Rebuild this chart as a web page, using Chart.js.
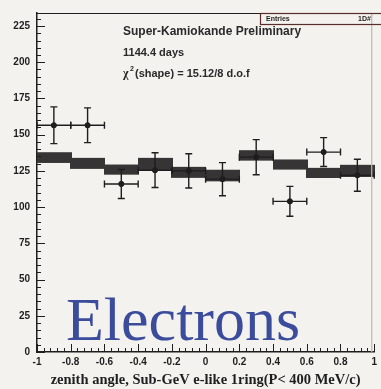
<!DOCTYPE html>
<html>
<head>
<meta charset="utf-8">
<script src="https://cdn.jsdelivr.net/npm/chart.js@4.4.0/dist/chart.umd.min.js"></script>
<style>
  html, body { margin: 0; padding: 0; background: #f3f2ee; }
  #wrap { width: 381px; height: 389px; }
</style>
</head>
<body>
<div id="wrap"><canvas id="zenith"></canvas></div>
<script>
// bins in cos(zenith), width 0.2
const binCenters = [-0.9, -0.7, -0.5, -0.3, -0.1, 0.1, 0.3, 0.5, 0.7, 0.9];
const binHalfWidth = 0.1;

// observed events with statistical errors
const dataValues = [156.5, 156.5, 116, 125.5, 125, 119.3, 134.5, 104, 138, 122];
const dataErrors = [12.7, 12, 10, 12, 11.8, 11.4, 12.1, 10.3, 10, 11];

// Monte Carlo expectation (box = central value +- error)
const mcValues = [134.2, 130.2, 125.9, 129.5, 124, 121.8, 135.7, 129.4, 123.6, 125];
const mcErrors = [3.7, 3.8, 3.5, 4.5, 3.8, 4, 3.6, 3.5, 3.5, 4.2];

const xTicks = [-1, -0.8, -0.6, -0.4, -0.2, 0, 0.2, 0.4, 0.6, 0.8, 1];
const yTicks = [0, 25, 50, 75, 100, 125, 150, 175, 200, 225];
const xTickLabels = ['-1', '-0.8', '-0.6', '-0.4', '-0.2', '0', '0.2', '0.4', '0.6', '0.8', '1'];
const yTickLabels = ['0', '25', '50', '75', '100', '125', '150', '175', '200', '225'];

const INK = '#1e1e1e';

// page background
const paperPlugin = {
    id: 'paper',
    beforeDraw(chart) {
        const ctx = chart.ctx;
        ctx.save();
        ctx.fillStyle = '#f3f2ee';
        ctx.fillRect(0, 0, chart.width, chart.height);
        ctx.restore();
    }
};

// MC boxes behind the data points
const mcBoxPlugin = {
    id: 'mcBoxes',
    beforeDatasetsDraw(chart) {
        const { ctx, scales: { x, y } } = chart;
        ctx.save();
        ctx.fillStyle = '#363434';
        binCenters.forEach((c, i) => {
            const x0 = x.getPixelForValue(c - binHalfWidth);
            const x1 = x.getPixelForValue(c + binHalfWidth);
            const y0 = y.getPixelForValue(mcValues[i] + mcErrors[i]);
            const y1 = y.getPixelForValue(mcValues[i] - mcErrors[i]);
            ctx.fillRect(Math.floor(x0), y0, Math.ceil(x1 - x0) + 1, y1 - y0);
        });
        ctx.restore();
    }
};

// error bars (vertical = stat. error, horizontal = bin width)
const errorBarPlugin = {
    id: 'errorBars',
    afterDatasetsDraw(chart) {
        const { ctx, scales: { x, y } } = chart;
        ctx.save();
        ctx.strokeStyle = INK;
        ctx.lineWidth = 1.4;
        binCenters.forEach((c, i) => {
            const px = x.getPixelForValue(c);
            const py = y.getPixelForValue(dataValues[i]);
            const top = y.getPixelForValue(dataValues[i] + dataErrors[i]);
            const bot = y.getPixelForValue(dataValues[i] - dataErrors[i]);
            const left = x.getPixelForValue(c - binHalfWidth);
            const right = x.getPixelForValue(c + binHalfWidth);
            ctx.beginPath();
            ctx.moveTo(px, top); ctx.lineTo(px, bot);
            ctx.moveTo(px - 3.5, top); ctx.lineTo(px + 3.5, top);
            ctx.moveTo(px - 3.5, bot); ctx.lineTo(px + 3.5, bot);
            ctx.moveTo(left, py); ctx.lineTo(right, py);
            ctx.moveTo(left, py - 3.5); ctx.lineTo(left, py + 3.5);
            ctx.moveTo(right, py - 3.5); ctx.lineTo(right, py + 3.5);
            ctx.stroke();
        });
        ctx.restore();
    }
};

// frame, inward ticks and the text on the pad
const framePlugin = {
    id: 'frame',
    afterDraw(chart) {
        const { ctx, chartArea: a, scales: { x, y } } = chart;
        ctx.save();
        ctx.strokeStyle = INK;
        ctx.lineWidth = 1;

        // y ticks: major every 25, minor every 5
        ctx.beginPath();
        for (let v = 0; v <= y.max; v += 5) {
            const py = Math.round(y.getPixelForValue(v)) + 0.5;
            const len = v % 25 === 0 ? 8 : 4;
            ctx.moveTo(a.left, py); ctx.lineTo(a.left + len, py);
        }
        // x ticks: major every 0.2, minor every 0.04
        for (let k = 0; k <= 50; k++) {
            const v = -1 + k * 0.04;
            const px = Math.round(x.getPixelForValue(v)) + 0.5;
            const len = k % 5 === 0 ? 8 : 4;
            ctx.moveTo(px, a.bottom); ctx.lineTo(px, a.bottom - len);
        }
        ctx.stroke();

        // top and right border
        ctx.beginPath();
        ctx.lineWidth = 1.2;
        ctx.moveTo(a.left, a.top + 0.5); ctx.lineTo(a.right, a.top + 0.5);
        ctx.stroke();
        ctx.beginPath();
        ctx.strokeStyle = '#b9b8b4';
        ctx.moveTo(a.right - 2.5, a.top); ctx.lineTo(a.right - 2.5, a.bottom);
        ctx.stroke();

        // stats box
        ctx.strokeStyle = '#5a2c2c';
        ctx.lineWidth = 1.2;
        ctx.strokeRect(260.5, 13.5, 130, 11);
        ctx.fillStyle = INK;
        ctx.font = 'bold 7px "Liberation Sans"';
        ctx.textBaseline = 'middle';
        ctx.fillText('Entries', 266, 19.5);
        ctx.fillText('1D#', 358, 19.5);

        // annotations
        ctx.fillStyle = '#2a2a2a';
        ctx.font = 'bold 12px "Liberation Sans"';
        ctx.fillText('Super-Kamiokande Preliminary', 123, 32);
        ctx.font = 'bold 11px "Liberation Sans"';
        ctx.fillText('1144.4 days', 123, 53);
        ctx.font = 'bold 12px "Liberation Serif"';
        ctx.fillText('\u03c7', 123, 74);
        ctx.font = 'bold 7px "Liberation Sans"';
        ctx.fillText('2', 130, 69);
        ctx.font = 'bold 11px "Liberation Sans"';
        ctx.fillText('(shape) = 15.12/8 d.o.f', 135, 74);

        // particle label
        ctx.fillStyle = '#3b4c9c';
        ctx.font = '62px "Liberation Serif"';
        ctx.textBaseline = 'alphabetic';
        ctx.fillText('Electrons', 66, 340);
        ctx.restore();
    }
};

const ctx = document.getElementById('zenith').getContext('2d');
new Chart(ctx, {
    type: 'scatter',
    data: {
        datasets: [{
            label: 'Data',
            data: binCenters.map((c, i) => ({ x: c, y: dataValues[i] })),
            backgroundColor: INK,
            borderColor: INK,
            pointRadius: 2.6,
            pointHoverRadius: 2.6
        }]
    },
    options: {
        responsive: true,
        maintainAspectRatio: false,
        animation: false,
        layout: { padding: { top: 13, right: 3, left: 0, bottom: 0 } },
        plugins: {
            legend: { display: false },
            tooltip: { enabled: false }
        },
        scales: {
            x: {
                type: 'linear',
                min: -1,
                max: 1,
                afterBuildTicks: axis => { axis.ticks = xTicks.map(v => ({ value: v })); },
                afterFit: axis => { axis.height = 37; },
                grid: { display: false, drawTicks: false },
                border: { display: true, color: INK, width: 1.5 },
                ticks: {
                    autoSkip: false,
                    maxRotation: 0,
                    padding: 4,
                    color: INK,
                    font: { family: 'Liberation Sans', weight: 'bold', size: 10 },
                    callback: (v, i) => xTickLabels[i]
                },
                title: {
                    display: true,
                    text: 'zenith angle, Sub-GeV e-like 1ring(P< 400 MeV/c)',
                    color: INK,
                    font: { family: 'Liberation Serif', weight: 'bold', size: 14.5 },
                    padding: { top: 0, bottom: 0 }
                }
            },
            y: {
                min: 0,
                max: 234,
                afterBuildTicks: axis => { axis.ticks = yTicks.map(v => ({ value: v })); },
                afterFit: axis => { axis.width = 37; },
                grid: { display: false, drawTicks: false },
                border: { display: true, color: INK, width: 1.5 },
                ticks: {
                    padding: 7,
                    color: INK,
                    font: { family: 'Liberation Sans', weight: 'bold', size: 10 },
                    callback: (v, i) => yTickLabels[i]
                }
            }
        }
    },
    plugins: [paperPlugin, mcBoxPlugin, errorBarPlugin, framePlugin]
});
</script>
</body>
</html>
